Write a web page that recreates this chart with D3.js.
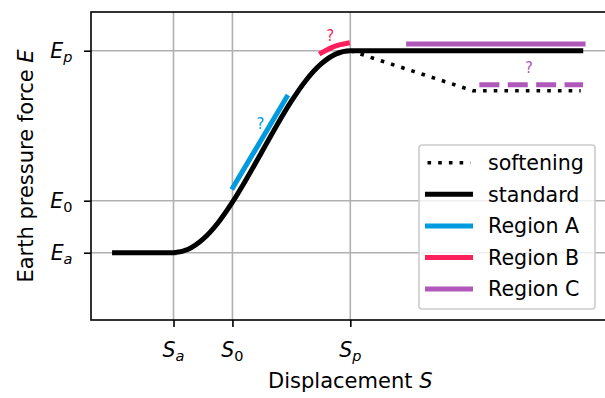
<!DOCTYPE html>
<html>
<head>
<meta charset="utf-8">
<script src="https://cdn.jsdelivr.net/npm/d3@7"></script>
<style>
  body { margin: 0; background: #fff; }
  svg { display: block; font-family: 'DejaVu Sans', sans-serif; }
</style>
</head>
<body>
<div id="chart"></div>
<script>
// tick positions (data units) and their math labels
const xTicks = [-1, 0, 2];
const xTickNames = [['S', 'a', true], ['S', '0', false], ['S', 'p', true]];
const yTicks = [0, 0.2575, 1];
const yTickNames = [['E', 'a', true], ['E', '0', false], ['E', 'p', true]];

// curves
const standardX = [-2, -1, -0.75, -0.5, -0.25, 0, 0.25, 0.5, 0.75, 1, 1.25, 1.5, 1.75, 2, 5.91];
const standardY = [0, 0, 0.017, 0.067, 0.146, 0.25, 0.371, 0.5, 0.629, 0.75, 0.854, 0.933, 0.983, 1, 1];
const softeningX = [2, 4.08, 5.91];
const softeningY = [1, 0.802, 0.802];
const regionAX = [0.01, 0.92];
const regionAY = [0.324, 0.770];
const regionBX = [1.51, 1.745, 1.95];
const regionBY = [0.989, 1.023, 1.037];
const regionCX = [2.99, 5.95];
const regionCY = [1.033, 1.033];
const regionCDashX = [4.19, 5.95];
const regionCDashY = [0.832, 0.832];

// "?" marks
const markX = [0.475, 1.66, 5.03];
const markY = [0.642, 1.074, 0.918];

const legendNames = ['softening', 'standard', 'Region A', 'Region B', 'Region C'];

const BLUE = '#009ade', PINK = '#ff1f5b', PURPLE = '#af58ba';

const size = { w: 605, h: 398 };
const margin = { top: 12, left: 91 };
const width = 518.6;
const height = 308;

const x = d3.scaleLinear().domain([-2.4, 6.4]).range([0, width]);
const y = d3.scaleLinear().domain([-0.333, 1.1916]).range([height, 0]);

const zip = (xs, ys) => xs.map((v, i) => [v, ys[i]]);

const svg = d3.select('#chart').append('svg')
    .attr('width', size.w).attr('height', size.h);
const g = svg.append('g').attr('transform', `translate(${margin.left}, ${margin.top})`);

// grid
g.append('g').selectAll('line').data(xTicks).enter().append('line')
    .attr('x1', d => x(d)).attr('x2', d => x(d)).attr('y1', 0).attr('y2', height)
    .attr('stroke', '#b0b0b0').attr('stroke-width', 1.6);
g.append('g').selectAll('line').data(yTicks).enter().append('line')
    .attr('y1', d => y(d)).attr('y2', d => y(d)).attr('x1', 0).attr('x2', width)
    .attr('stroke', '#b0b0b0').attr('stroke-width', 1.6);

// axes (ticks only, labels drawn as math below)
const xAxis = g.append('g')
    .attr('transform', `translate(0, ${height})`)
    .call(d3.axisBottom(x).tickValues(xTicks).tickSize(7).tickSizeOuter(0).tickFormat(''));
const yAxis = g.append('g')
    .call(d3.axisLeft(y).tickValues(yTicks).tickSize(7).tickSizeOuter(0).tickFormat(''));
[xAxis, yAxis].forEach(a => {
    a.select('.domain').remove();
    a.selectAll('.tick line').attr('stroke', '#000').attr('stroke-width', 1.6);
});

const mathLabel = (sel, [base, sub, italicSub]) => {
    sel.append('tspan').attr('font-style', 'italic').text(base);
    sel.append('tspan').attr('font-style', italicSub ? 'italic' : 'normal')
        .attr('font-size', 14.5).attr('dy', 4).text(sub);
};

xTicks.forEach((v, i) => {
    g.append('text')
        .attr('x', x(v)).attr('y', 345).attr('text-anchor', 'middle')
        .attr('font-size', 20.5)
        .call(mathLabel, xTickNames[i]);
});
yTicks.forEach((v, i) => {
    g.append('text')
        .attr('x', -18.5).attr('y', y(v) + 7.4).attr('text-anchor', 'end')
        .attr('font-size', 20.5)
        .call(mathLabel, yTickNames[i]);
});

// lines
const line = d3.line().x(d => x(d[0])).y(d => y(d[1]));
const smooth = d3.line().x(d => x(d[0])).y(d => y(d[1])).curve(d3.curveMonotoneX);

g.append('path').attr('d', line(zip(softeningX, softeningY)))
    .attr('fill', 'none').attr('stroke', '#000').attr('stroke-width', 3.6)
    .attr('stroke-dasharray', '3.6,7.1');
g.append('path').attr('d', smooth(zip(standardX, standardY)))
    .attr('fill', 'none').attr('stroke', '#000').attr('stroke-width', 5)
    .attr('stroke-linecap', 'square').attr('stroke-linejoin', 'round');
g.append('path').attr('d', line(zip(regionAX, regionAY)))
    .attr('fill', 'none').attr('stroke', BLUE).attr('stroke-width', 5)
    .attr('stroke-linecap', 'square');
g.append('path').attr('d', smooth(zip(regionBX, regionBY)))
    .attr('fill', 'none').attr('stroke', PINK).attr('stroke-width', 5)
    .attr('stroke-linecap', 'square');
g.append('path').attr('d', line(zip(regionCX, regionCY)))
    .attr('fill', 'none').attr('stroke', PURPLE).attr('stroke-width', 5)
    .attr('stroke-linecap', 'square');
g.append('path').attr('d', line(zip(regionCDashX, regionCDashY)))
    .attr('fill', 'none').attr('stroke', PURPLE).attr('stroke-width', 5)
    .attr('stroke-dasharray', '20,8.4');

g.selectAll('.mark').data(zip(markX, markY)).enter().append('text')
    .attr('class', 'mark')
    .attr('x', d => x(d[0])).attr('y', d => y(d[1]) + 5.5)
    .attr('text-anchor', 'middle').attr('font-size', 15)
    .attr('fill', (d, i) => [BLUE, PINK, PURPLE][i])
    .text('?');

// frame
g.append('rect').attr('width', width).attr('height', height)
    .attr('fill', 'none').attr('stroke', '#000').attr('stroke-width', 1.6);

// axis titles
const xt = svg.append('text').attr('x', margin.left + width / 2).attr('y', 388)
    .attr('text-anchor', 'middle').attr('font-size', 21).text('Displacement ');
xt.append('tspan').attr('font-style', 'italic').text('S');
const yt = svg.append('text').attr('transform', 'translate(33, 166) rotate(-90)')
    .attr('text-anchor', 'middle').attr('font-size', 21).text('Earth pressure force ');
yt.append('tspan').attr('font-style', 'italic').text('E');

// legend
const legend = svg.append('g').attr('transform', 'translate(419, 145)');
legend.append('rect').attr('width', 176).attr('height', 164).attr('rx', 3)
    .attr('fill', '#fff').attr('fill-opacity', 0.8)
    .attr('stroke', '#cccccc').attr('stroke-width', 1.6);
const styles = [
    { color: '#000', w: 3.6, dash: '3.6,7.1', cap: 'butt' },
    { color: '#000', w: 5, dash: null, cap: 'square' },
    { color: BLUE, w: 5, dash: null, cap: 'square' },
    { color: PINK, w: 5, dash: null, cap: 'square' },
    { color: PURPLE, w: 5, dash: null, cap: 'square' }
];
legendNames.forEach((name, i) => {
    const cy = 17.7 + i * 31.6;
    const s = styles[i];
    legend.append('line')
        .attr('x1', 8.5).attr('x2', 51.5).attr('y1', cy).attr('y2', cy)
        .attr('stroke', s.color).attr('stroke-width', s.w)
        .attr('stroke-dasharray', s.dash).attr('stroke-linecap', s.cap);
    legend.append('text').attr('x', 69).attr('y', cy + 7.3)
        .attr('font-size', 20.6).text(name);
});
</script>
</body>
</html>
